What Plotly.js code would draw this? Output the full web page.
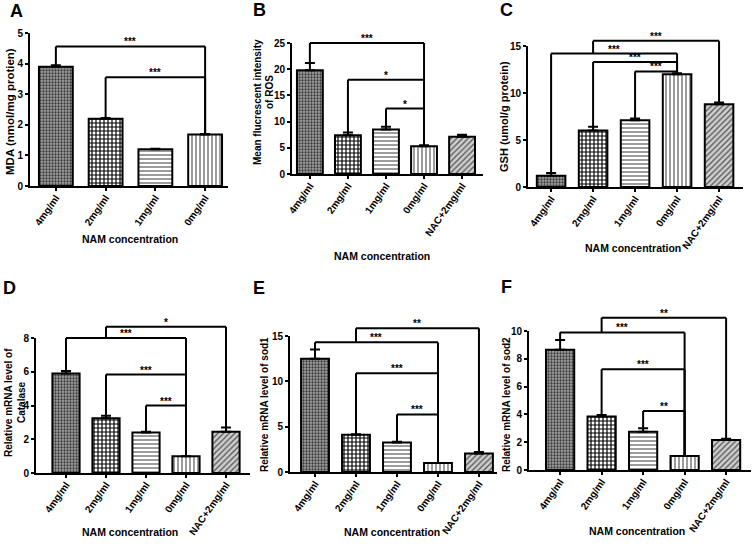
<!DOCTYPE html>
<html>
<head>
<meta charset="utf-8">
<script src="https://cdn.plot.ly/plotly-3.0.1.min.js"></script>
<style>
  html, body { margin: 0; padding: 0; background: #fff; }
  #chart { width: 752px; height: 550px; }
</style>
</head>
<body>
<div id="chart"></div>
<script>
// categories
const cats4 = ['4mg/ml', '2mg/ml', '1mg/ml', '0mg/ml'];
const cats5 = ['4mg/ml', '2mg/ml', '1mg/ml', '0mg/ml', 'NAC+2mg/ml'];

// A - MDA
const mdaMean = [3.9, 2.2, 1.2, 1.68];
const mdaErr = [0.05, 0.02, 0.02, 0.02];
// B - ROS
const rosMean = [19.8, 7.4, 8.5, 5.3, 7.1];
const rosErr = [1.4, 0.5, 0.5, 0.2, 0.4];
// C - GSH
const gshMean = [1.2, 6.0, 7.1, 12.0, 8.8];
const gshErr = [0.3, 0.4, 0.2, 0.1, 0.2];
// D - Catalase
const catMean = [5.9, 3.25, 2.4, 1.0, 2.45];
const catErr = [0.15, 0.15, 0.05, 0, 0.25];
// E - sod1
const sod1Mean = [12.5, 4.1, 3.25, 1.0, 2.05];
const sod1Err = [1.0, 0.05, 0.1, 0, 0.15];
// F - sod2
const sod2Mean = [8.65, 3.85, 2.75, 1.0, 2.15];
const sod2Err = [0.7, 0.1, 0.25, 0, 0.1];

// significance brackets: [from, to, height, label, start height of left leg (optional)]
const mdaSig = [[0, 3, 4.56, '***'], [1, 3, 3.55, '***']];
const rosSig = [[0, 3, 25, '***'], [1, 3, 18, '*'], [2, 3, 12.5, '*']];
const gshSig = [[1, 4, 15.55, '***', 14.2], [0, 3, 14.2, '***'], [1, 3, 13.3, '***'], [2, 3, 12.3, '***']];
const catSig = [[1, 4, 8.66, '*', 8.0], [0, 3, 8.0, '***'], [1, 3, 5.83, '***'], [2, 3, 4.0, '***']];
const sod1Sig = [[1, 4, 15.85, '**', 14.3], [0, 3, 14.3, '***'], [1, 3, 10.9, '***'], [2, 3, 6.35, '***']];
const sod2Sig = [[1, 4, 10.96, '**', 9.9], [0, 3, 9.9, '***'], [1, 3, 7.24, '***'], [2, 3, 4.24, '**']];

const W = 752, H = 550;
const fx = p => p / W;
const fy = p => 1 - p / H;
const FONT = 'Liberation Sans, Arial, sans-serif';
const NARROW = 'Liberation Sans Narrow, Arial Narrow, Liberation Sans, sans-serif';

// ytitles: [text, x px, y px center, font size]
const panels = [
  { letter: 'A', cats: cats4, mean: mdaMean, err: mdaErr, sig: mdaSig, ymax: 5, dtick: 1,
    box: [30, 228, 33, 186], xr: [-0.52, 3.46], letterPos: [16, 11],
    ytitles: [['MDA (nmol/mg protien)', 10, 112, 11.5]], xtPos: [130, 239] },
  { letter: 'B', cats: cats5, mean: rosMean, err: rosErr, sig: rosSig, ymax: 25, dtick: 5,
    box: [292, 483, 43, 174], xr: [-0.47, 4.55], letterPos: [259, 10],
    ytitles: [['Mean flucrescent intensity', 258, 102, 10], ['of ROS', 270, 92, 10]], xtPos: [382, 256] },
  { letter: 'C', cats: cats5, mean: gshMean, err: gshErr, sig: gshSig, ymax: 15, dtick: 5,
    box: [528, 743, 46, 187], xr: [-0.55, 4.57], letterPos: [506, 10],
    ytitles: [['GSH (umol/g protein)', 504, 117, 11]], xtPos: [633, 248] },
  { letter: 'D', cats: cats5, mean: catMean, err: catErr, sig: catSig, ymax: 8, dtick: 2,
    box: [36, 250, 338, 473], xr: [-0.75, 4.6], letterPos: [9, 288],
    ytitles: [['Relative mRNA level of', 8, 403, 10], ['Catalase', 21, 402, 10]], xtPos: [130, 532] },
  { letter: 'E', cats: cats5, mean: sod1Mean, err: sod1Err, sig: sod1Sig, ymax: 15, dtick: 5,
    box: [290, 497, 336, 472], xr: [-0.61, 4.44], letterPos: [259, 288],
    ytitles: [['Relative mRNA level of sod1', 264, 405, 10]], xtPos: [392, 532] },
  { letter: 'F', cats: cats5, mean: sod2Mean, err: sod2Err, sig: sod2Sig, ymax: 10, dtick: 2,
    box: [529, 751, 331, 470], xr: [-0.75, 4.6], letterPos: [506, 287],
    ytitles: [['Relative mRNA level of sod2', 506, 405, 10]], xtPos: [637, 531] }
];

// fills per category position
const patShape = ['.', '+', '-', '|', '/'];
const patFg = ['#3c3c3c', '#000000', '#5a5a5a', '#5a5a5a', '#5a5a5a'];
const patBg = ['#a0a0a0', '#ffffff', '#ffffff', '#ffffff', '#cfcfcf'];
const patSize = [3, 4, 4, 4, 4];
const patSolid = [0.45, 0.5, 0.3, 0.3, 0.35];

const data = [];
const shapes = [];
const annotations = [];
const layout = {
  width: W, height: H,
  margin: { l: 0, r: 0, t: 0, b: 0 },
  paper_bgcolor: '#fff', plot_bgcolor: '#fff',
  showlegend: false,
  font: { family: FONT, color: '#000' }
};

panels.forEach((p, i) => {
  const n = i + 1;
  const xa = n === 1 ? 'x' : 'x' + n;
  const ya = n === 1 ? 'y' : 'y' + n;
  const k = p.cats.length;
  const yDom = [fy(p.box[3]), fy(p.box[2])];
  const py = v => yDom[0] + v / p.ymax * (yDom[1] - yDom[0]);

  data.push({
    type: 'bar', x: p.cats, y: p.mean, xaxis: xa, yaxis: ya,
    width: 0.68,
    marker: {
      color: '#ffffff',
      line: { color: '#000', width: 2 },
      pattern: {
        shape: patShape.slice(0, k), fgcolor: patFg.slice(0, k), bgcolor: patBg.slice(0, k),
        size: patSize.slice(0, k), solidity: patSolid.slice(0, k), fgopacity: 1
      }
    },
    error_y: {
      type: 'data', symmetric: false, array: p.err, arrayminus: p.err.map(() => 0),
      color: '#000', thickness: 2, width: 5
    },
    hoverinfo: 'skip'
  });

  layout['xaxis' + (n === 1 ? '' : n)] = {
    domain: [fx(p.box[0]), fx(p.box[1])], anchor: ya,
    type: 'category', range: p.xr,
    showline: true, linecolor: '#000', linewidth: 2,
    ticks: 'outside', ticklen: 3, tickwidth: 2, tickcolor: '#000',
    ticklabelstandoff: -3,
    tickangle: -55, tickfont: { family: NARROW, size: 10, weight: 'bold', color: '#000' },
    showgrid: false, zeroline: false, fixedrange: true
  };
  layout['yaxis' + (n === 1 ? '' : n)] = {
    domain: yDom, anchor: xa,
    range: [0, p.ymax], dtick: p.dtick,
    showline: true, linecolor: '#000', linewidth: 2,
    ticks: 'outside', ticklen: 3, tickwidth: 2, tickcolor: '#000',
    tickfont: { family: FONT, size: 10, weight: 'bold', color: '#000' },
    showgrid: false, zeroline: false, fixedrange: true
  };

  const line = (x0, y0, x1, y1) => shapes.push({
    type: 'line', xref: xa, yref: 'paper', x0: x0, x1: x1, y0: py(y0), y1: py(y1),
    line: { color: '#000', width: 2 }
  });
  p.sig.forEach(s => {
    const [a, b, h, label, start] = s;
    const ya0 = start !== undefined ? start : p.mean[a] + p.err[a];
    line(a, ya0, a, h);
    line(a, h, b, h);
    line(b, h, b, p.mean[b] + p.err[b]);
    annotations.push({
      xref: xa, yref: 'paper', x: (a + b) / 2, y: py(h), yanchor: 'bottom', yshift: -3,
      text: label, showarrow: false,
      font: { family: FONT, size: 10, weight: 'bold', color: '#000' }
    });
  });

  annotations.push({
    xref: 'paper', yref: 'paper', x: fx(p.letterPos[0]), y: fy(p.letterPos[1]),
    text: p.letter, showarrow: false, xanchor: 'center', yanchor: 'middle',
    font: { family: FONT, size: 18, weight: 'bold', color: '#000' }
  });
  p.ytitles.forEach(t => annotations.push({
    xref: 'paper', yref: 'paper', x: fx(t[1]), y: fy(t[2]),
    text: t[0], showarrow: false, textangle: -90, xanchor: 'center', yanchor: 'middle',
    font: { family: FONT, size: t[3], weight: 'bold', color: '#000' }
  }));
  annotations.push({
    xref: 'paper', yref: 'paper', x: fx(p.xtPos[0]), y: fy(p.xtPos[1]),
    text: 'NAM concentration', showarrow: false, xanchor: 'center', yanchor: 'middle',
    font: { family: FONT, size: 10.5, weight: 'bold', color: '#000' }
  });
});

layout.shapes = shapes;
layout.annotations = annotations;

Plotly.newPlot('chart', data, layout, { staticPlot: true, displayModeBar: false });
</script>
</body>
</html>
